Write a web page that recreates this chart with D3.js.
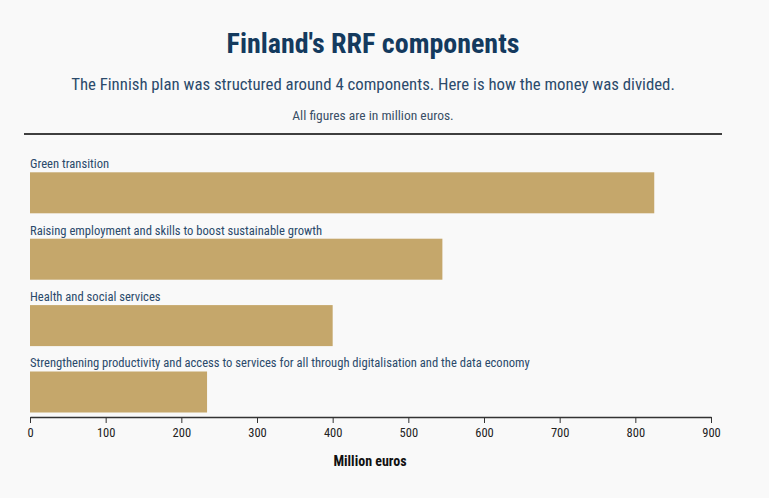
<!DOCTYPE html>
<html>
<head>
<meta charset="utf-8">
<script src="https://cdn.jsdelivr.net/npm/d3@7"></script>
<style>
  html, body { margin: 0; padding: 0; background: #f9f9f9; }
  svg { display: block; font-family: "Roboto Condensed", "Liberation Sans Narrow", "DejaVu Sans Condensed", sans-serif; }
</style>
</head>
<body>
<svg id="chart" width="769" height="498"></svg>
<script>
const categories = [
  "Green transition",
  "Raising employment and skills to boost sustainable growth",
  "Health and social services",
  "Strengthening productivity and access to services for all through digitalisation and the data economy"
];
const values = [825, 545, 400, 234];
const xTicks = [0, 100, 200, 300, 400, 500, 600, 700, 800, 900];
const title = "Finland's RRF components";
const subtitle = "The Finnish plan was structured around 4 components. Here is how the money was divided.";
const note = "All figures are in million euros.";
const xLabel = "Million euros";

const svg = d3.select("#chart");
svg.append("rect").attr("width", 769).attr("height", 498).attr("fill", "#f9f9f9");

svg.append("text").attr("x", 373).attr("y", 53).attr("text-anchor", "middle")
  .attr("font-size", 28).attr("font-weight", 700).attr("fill", "#143a5e").text(title);
svg.append("text").attr("x", 373).attr("y", 90).attr("text-anchor", "middle")
  .attr("font-size", 16.8).attr("fill", "#2b4a6b").text(subtitle);
svg.append("text").attr("x", 373).attr("y", 120).attr("text-anchor", "middle")
  .attr("font-size", 13.5).attr("fill", "#3a4f66").text(note);
svg.append("line").attr("x1", 24).attr("x2", 722).attr("y1", 134).attr("y2", 134)
  .attr("stroke", "#000").attr("stroke-width", 1.5);

const x = d3.scaleLinear().domain([0, 900]).range([30, 711]);
const y = d3.scaleBand().domain(categories).range([172.3, 412.5]).paddingInner(0.3825).paddingOuter(0);

const g = svg.append("g");
g.selectAll("rect.bar").data(categories).join("rect")
  .attr("class", "bar")
  .attr("x", x(0))
  .attr("y", d => y(d))
  .attr("width", (d, i) => x(values[i]) - x(0))
  .attr("height", y.bandwidth())
  .attr("fill", "#c5a76b");

g.selectAll("text.lab").data(categories).join("text")
  .attr("class", "lab")
  .attr("x", 30)
  .attr("y", d => y(d) - 4)
  .attr("font-size", 12.6)
  .attr("fill", "#2b4a6b")
  .text(d => d);

const axis = svg.append("g").attr("transform", "translate(0,417)")
  .call(d3.axisBottom(x).tickValues(xTicks).tickSize(6).tickSizeOuter(0).tickFormat(d3.format("d")));
axis.select(".domain").attr("stroke", "#333").attr("stroke-width", 1.3);
axis.selectAll(".tick line").attr("stroke", "#333");
axis.selectAll(".tick text").attr("font-size", 12.5).attr("fill", "#222").attr("dy", "0.85em")
  .attr("font-family", "\"Roboto Condensed\", \"Liberation Sans Narrow\", \"DejaVu Sans Condensed\", sans-serif");

svg.append("text").attr("x", 370).attr("y", 466).attr("text-anchor", "middle")
  .attr("font-size", 14).attr("font-weight", 700).attr("fill", "#111").text(xLabel);
</script>
</body>
</html>
